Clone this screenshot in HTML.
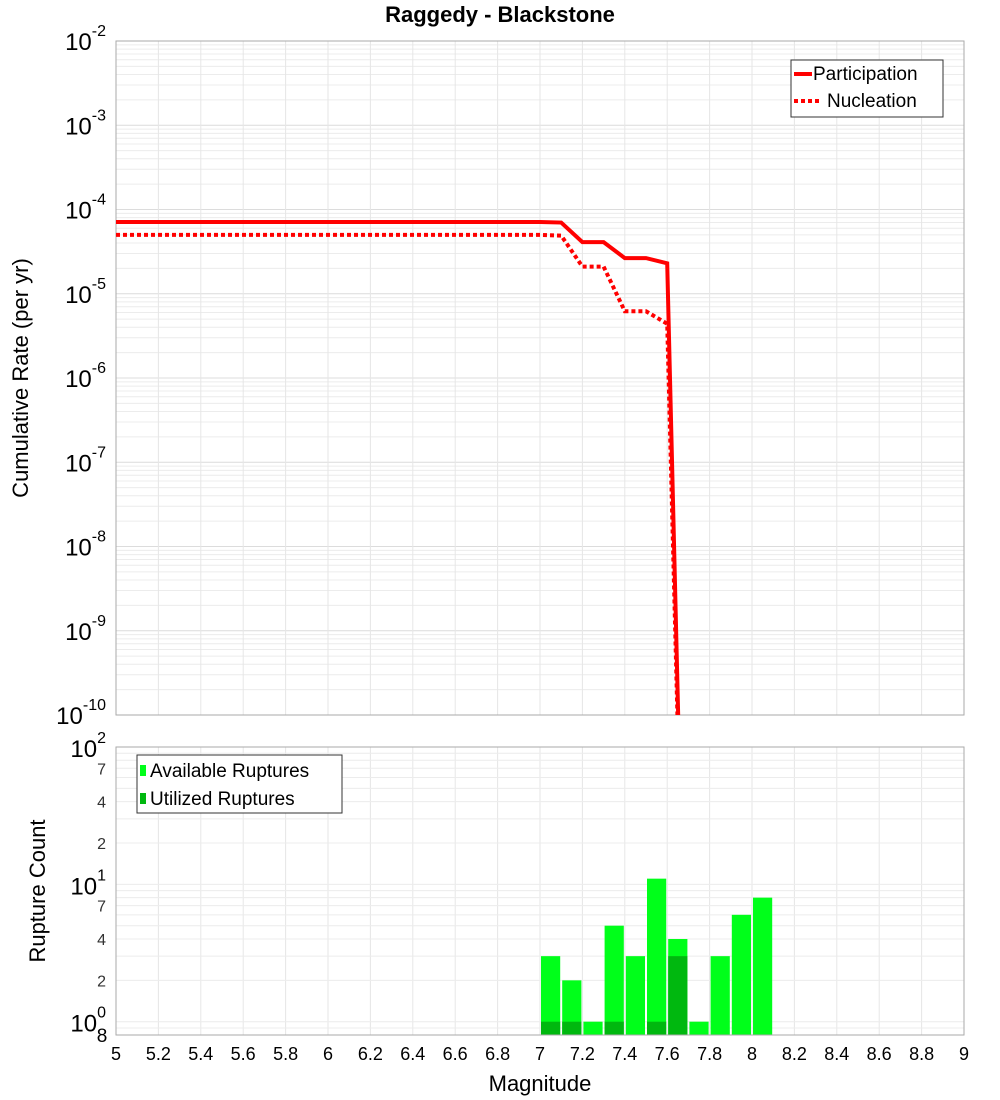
<!DOCTYPE html>
<html><head><meta charset="utf-8"><style>
body{margin:0;background:#fff;}
svg{display:block;font-family:"Liberation Sans","DejaVu Sans",sans-serif;}
</style></head><body>
<svg id="c" width="1000" height="1100" xmlns="http://www.w3.org/2000/svg">
<text x="500" y="22" text-anchor="middle" font-size="22" font-weight="bold">Raggedy - Blackstone</text>
<g id="topPlot"></g>
<g id="botPlot"></g>
<text x="28" y="378" transform="rotate(-90 28 378)" text-anchor="middle" font-size="22">Cumulative Rate (per yr)</text>
<text x="45" y="891" transform="rotate(-90 45 891)" text-anchor="middle" font-size="22">Rupture Count</text>
<text x="540" y="1091" text-anchor="middle" font-size="22">Magnitude</text>
</svg>
<script>
const mags=[5.0,5.1,5.2,5.3,5.4,5.5,5.6,5.7,5.8,5.9,6.0,6.1,6.2,6.3,6.4,6.5,6.6,6.7,6.8,6.9,7.0,7.1,7.2,7.3,7.4,7.5,7.6,7.7];
const participation=[7.1e-5,7.1e-5,7.1e-5,7.1e-5,7.1e-5,7.1e-5,7.1e-5,7.1e-5,7.1e-5,7.1e-5,7.1e-5,7.1e-5,7.1e-5,7.1e-5,7.1e-5,7.1e-5,7.1e-5,7.1e-5,7.1e-5,7.1e-5,7.1e-5,7.0e-5,4.1e-5,4.1e-5,2.65e-5,2.65e-5,2.3e-5,1e-15];
const nucleation=[5.0e-5,5.0e-5,5.0e-5,5.0e-5,5.0e-5,5.0e-5,5.0e-5,5.0e-5,5.0e-5,5.0e-5,5.0e-5,5.0e-5,5.0e-5,5.0e-5,5.0e-5,5.0e-5,5.0e-5,5.0e-5,5.0e-5,5.0e-5,5.0e-5,4.9e-5,2.1e-5,2.1e-5,6.2e-6,6.2e-6,4.4e-6,1e-15];
const binMags=[7.05,7.15,7.25,7.35,7.45,7.55,7.65,7.75,7.85,7.95,8.05];
const available=[3,2,1,5,3,11,4,1,3,6,8];
const utilized=[1,1,0,1,0,1,3,0,0,0,0];
const xTicks=[5,5.2,5.4,5.6,5.8,6,6.2,6.4,6.6,6.8,7,7.2,7.4,7.6,7.8,8,8.2,8.4,8.6,8.8,9];
const rateExps=[-2,-3,-4,-5,-6,-7,-8,-9,-10];
const countExps=[0,1,2];
const countMinor=[2,4,7];

const NS="http://www.w3.org/2000/svg";
const X0=116,X1=964;
const x=m=>X0+(m-5)/4*(X1-X0);
const T0=41,T1=715;
const yr=v=>T0+(-2-Math.log10(v))/8*(T1-T0);
const B0=747,B1=1035,BL=Math.log10(0.8);
const yc=v=>B0+(2-Math.log10(v))/(2-BL)*(B1-B0);
function el(p,t,a){const e=document.createElementNS(NS,t);for(const k in a)e.setAttribute(k,a[k]);p.appendChild(e);return e;}
const topG=document.getElementById('topPlot'),botG=document.getElementById('botPlot'),svgEl=document.getElementById('c');
const defs=el(svgEl,'defs',{});
const cp=el(defs,'clipPath',{id:'clipT'});el(cp,'rect',{x:X0,y:T0,width:X1-X0,height:T1-T0});
for(let e=-10;e<-2;e++)for(let k=1;k<10;k++){const v=k*Math.pow(10,e);const g=el(topG,'line',{x1:X0,x2:X1,y1:yr(v),y2:yr(v),stroke:k==1?'#dcdcdc':'#ececec','stroke-width':1});

}
xTicks.forEach(t=>{const g=el(topG,'line',{x1:x(t),x2:x(t),y1:T0,y2:T1,stroke:'#e6e6e6'});


const g2=el(botG,'line',{x1:x(t),x2:x(t),y1:B0,y2:B1,stroke:'#e6e6e6'});

});
el(topG,'rect',{x:X0,y:T0,width:X1-X0,height:T1-T0,fill:'none',stroke:'#aaa'});
rateExps.forEach(e=>{const t=el(topG,'text',{x:106,y:yr(Math.pow(10,e))+9,'text-anchor':'end','font-size':24});


t.innerHTML='10<tspan dy="-14" font-size="16">'+e+'</tspan>';});
function line(vals,dash,name){const pts=mags.map((m,i)=>x(m)+','+yr(vals[i])).join(' ');
const p=el(topG,'polyline',{points:pts,fill:'none',stroke:'#ff0000','stroke-width':4,'clip-path':'url(#clipT)'});
if(dash)p.setAttribute('stroke-dasharray','4,3');

}
line(participation,false,'participation-line');
line(nucleation,true,'nucleation-line');
const lg=el(topG,'g',{});


el(lg,'rect',{x:791,y:60,width:152,height:57,fill:'#fff',stroke:'#333'});
el(lg,'line',{x1:794,x2:812,y1:74,y2:74,stroke:'#f00','stroke-width':4});
el(lg,'line',{x1:794,x2:822,y1:101,y2:101,stroke:'#f00','stroke-width':4,'stroke-dasharray':'4,3'});
const l1=el(lg,'text',{x:813,y:80,'font-size':19});l1.textContent='Participation';
const l2=el(lg,'text',{x:827,y:107,'font-size':19});l2.textContent='Nucleation';
for(let e=-1;e<2;e++)for(let k=1;k<10;k++){const v=k*Math.pow(10,e);if(v<0.8)continue;const g=el(botG,'line',{x1:X0,x2:X1,y1:yc(v),y2:yc(v),stroke:'#ececec'});

}
countExps.forEach(e=>{const t=el(botG,'text',{x:106,y:yc(Math.pow(10,e))+10,'text-anchor':'end','font-size':24});


t.innerHTML='10<tspan dy="-14" font-size="16">'+e+'</tspan>';});
[0,1].forEach(e=>countMinor.forEach(k=>{const t=el(botG,'text',{x:106,y:yc(k*Math.pow(10,e))+6,'text-anchor':'end','font-size':16,fill:'#333'});


t.textContent=k;}));
const t8=el(botG,'text',{x:102,y:1042,'text-anchor':'middle','font-size':19});


t8.textContent='8';
const bw=(x(5.1)-x(5))-2;
binMags.forEach((m,i)=>{const a=el(botG,'rect',{x:x(m)-bw/2,y:yc(available[i]),width:bw,height:B1-yc(available[i]),fill:'#00ff1a'});


if(utilized[i]>0){const u=el(botG,'rect',{x:x(m)-bw/2,y:yc(utilized[i]),width:bw,height:B1-yc(utilized[i]),fill:'#00b80f'});

}});
el(botG,'rect',{x:X0,y:B0,width:X1-X0,height:B1-B0,fill:'none',stroke:'#aaa'});
const bl=el(botG,'g',{});


el(bl,'rect',{x:137,y:755,width:205,height:58,fill:'#fff',stroke:'#333'});
el(bl,'rect',{x:140,y:765,width:6,height:11,fill:'#00ff1a'});
el(bl,'rect',{x:140,y:793,width:6,height:11,fill:'#00b80f'});
const b1=el(bl,'text',{x:150,y:777,'font-size':19});b1.textContent='Available Ruptures';
const b2=el(bl,'text',{x:150,y:805,'font-size':19});b2.textContent='Utilized Ruptures';
xTicks.forEach(t=>{const e=el(botG,'text',{x:x(t),y:1060,'text-anchor':'middle','font-size':18});


e.textContent=String(t);});
</script>
</body></html>
